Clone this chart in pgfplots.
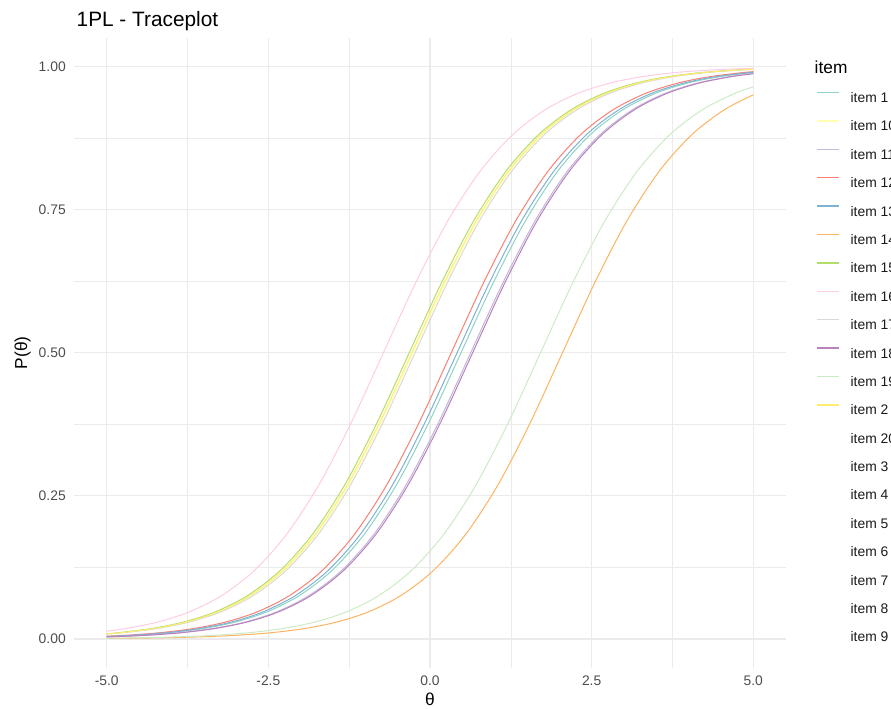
\documentclass[border=0pt]{standalone}
\usepackage{pgfplots}
\pgfplotsset{compat=1.18}
\usepackage{fontspec}
\setmainfont{Liberation Sans}
\definecolor{c1}{HTML}{8DD3C7}
\definecolor{c10}{HTML}{FFFFB3}
\definecolor{c11}{HTML}{BEBADA}
\definecolor{c12}{HTML}{FB8072}
\definecolor{c13}{HTML}{80B1D3}
\definecolor{c14}{HTML}{FDB462}
\definecolor{c15}{HTML}{B3DE69}
\definecolor{c16}{HTML}{FCCDE5}
\definecolor{c17}{HTML}{D9D9D9}
\definecolor{c18}{HTML}{BC80BD}
\definecolor{c19}{HTML}{CCEBC5}
\definecolor{c2}{HTML}{FFED6F}
\definecolor{gridc}{HTML}{EBEBEB}
\definecolor{tickc}{HTML}{4D4D4D}
\definecolor{legc}{HTML}{1A1A1A}
\begin{document}
\begin{tikzpicture}
\useasboundingbox (0pt,0pt) rectangle (668.25pt,531.75pt);
\node[anchor=base west, font=\fontsize{15.6}{18}\selectfont] at (54pt,511.7pt) {1PL - Traceplot};
\node[anchor=base west, font=\fontsize{13}{15}\selectfont] at (607.5pt,476.25pt) {item};
\begin{axis}[
  at={(55.8pt,31.05pt)}, anchor=south west,
  scale only axis, width=533.4pt, height=472.4pt,
  xmin=-5.5, xmax=5.5, ymin=-0.05, ymax=1.05,
  axis line style={draw=none},
  tick style={draw=none},
  major tick length=0pt, minor tick length=0pt,
  xtick={-5,-2.5,0,2.5,5}, xticklabels={-5.0,-2.5,0.0,2.5,5.0},
  ytick={0,0.25,0.5,0.75,1}, yticklabels={0.00,0.25,0.50,0.75,1.00},
  minor xtick={-3.75,-1.25,1.25,3.75},
  minor ytick={0.125,0.375,0.625,0.875},
  grid=both,
  major grid style={color=gridc, line width=0.8pt},
  minor grid style={color=gridc, line width=0.4pt},
  ticklabel style={font=\fontsize{10.4}{12}\selectfont, text=tickc, inner sep=0pt},
  xticklabel style={anchor=north, yshift=-6.3pt},
  yticklabel style={anchor=east, xshift=-6.3pt},
  xlabel={θ}, ylabel={P(θ)},
  xlabel style={at={(axis description cs:0.5,-0.0594)}, anchor=base, font=\fontsize{13}{15}\selectfont},
  ylabel style={at={(axis description cs:-0.0727,0.5)}, anchor=center, font=\fontsize{13}{15}\selectfont},
  legend cell align=left,
  legend style={at={(1.0368,0.9255)}, anchor=north west, draw=none, fill=none,
    font=\fontsize{10.4}{12}\selectfont, text=legc, row sep=10.04pt, column sep=0pt,
    nodes={inner sep=0pt, text height=7.5pt, text depth=0pt}},
  legend image code/.code={\path[draw=none,fill=none] (0pt,0pt) rectangle (25.4pt,7.5pt);\draw[#1,line width=1.1pt] (0pt,3.75pt) -- (16.7pt,3.75pt);},
  every axis plot/.append style={line width=0.75pt, smooth, no marks},
]
% item 1
\addplot[color=c1] coordinates {(-5,0.00415)(-4.52,0.0067)(-4.02,0.0110)(-3.52,0.0180)(-3.02,0.0293)(-2.52,0.0474)(-2.02,0.0759)(-1.52,0.1192)(-1.02,0.1824)(-0.52,0.2689)(-0.02,0.3775)(0.48,0.5)(0.98,0.6225)(1.48,0.7311)(1.98,0.8176)(2.48,0.8808)(2.98,0.9241)(3.48,0.9526)(3.98,0.9707)(4.48,0.9820)(5,0.98923)};
\addlegendentry{item 1}
% item 10
\addplot[color=c10] coordinates {(-5,0.00866)(-4.76,0.0110)(-4.26,0.0180)(-3.76,0.0293)(-3.26,0.0474)(-2.76,0.0759)(-2.26,0.1192)(-1.76,0.1824)(-1.26,0.2689)(-0.76,0.3775)(-0.26,0.5)(0.24,0.6225)(0.74,0.7311)(1.24,0.8176)(1.74,0.8808)(2.24,0.9241)(2.74,0.9526)(3.24,0.9707)(3.74,0.9820)(4.24,0.9890)(4.74,0.9933)(5,0.99483)};
\addlegendentry{item 10}
% item 11
\addplot[color=c11] coordinates {(-5,0.00358)(-4.87,0.0041)(-4.37,0.0067)(-3.87,0.0110)(-3.37,0.0180)(-2.87,0.0293)(-2.37,0.0474)(-1.87,0.0759)(-1.37,0.1192)(-0.87,0.1824)(-0.37,0.2689)(0.13,0.3775)(0.63,0.5)(1.13,0.6225)(1.63,0.7311)(2.13,0.8176)(2.63,0.8808)(3.13,0.9241)(3.63,0.9526)(4.13,0.9707)(4.63,0.9820)(5,0.98751)};
\addlegendentry{item 11}
% item 12
\addplot[color=c12] coordinates {(-5,0.00482)(-4.67,0.0067)(-4.17,0.0110)(-3.67,0.0180)(-3.17,0.0293)(-2.67,0.0474)(-2.17,0.0759)(-1.67,0.1192)(-1.17,0.1824)(-0.67,0.2689)(-0.17,0.3775)(0.33,0.5)(0.83,0.6225)(1.33,0.7311)(1.83,0.8176)(2.33,0.8808)(2.83,0.9241)(3.33,0.9526)(3.83,0.9707)(4.33,0.9820)(4.83,0.9890)(5,0.99071)};
\addlegendentry{item 12}
% item 13
\addplot[color=c13] coordinates {(-5,0.00441)(-4.58,0.0067)(-4.08,0.0110)(-3.58,0.0180)(-3.08,0.0293)(-2.58,0.0474)(-2.08,0.0759)(-1.58,0.1192)(-1.08,0.1824)(-0.58,0.2689)(-0.08,0.3775)(0.42,0.5)(0.92,0.6225)(1.42,0.7311)(1.92,0.8176)(2.42,0.8808)(2.92,0.9241)(3.42,0.9526)(3.92,0.9707)(4.42,0.9820)(5,0.98985)};
\addlegendentry{item 13}
% item 14
\addplot[color=c14] coordinates {(-5,0.00087)(-4.45,0.0015)(-3.95,0.0025)(-3.45,0.0041)(-2.95,0.0067)(-2.45,0.0110)(-1.95,0.0180)(-1.45,0.0293)(-0.95,0.0474)(-0.45,0.0759)(0.05,0.1192)(0.55,0.1824)(1.05,0.2689)(1.55,0.3775)(2.05,0.5)(2.55,0.6225)(3.05,0.7311)(3.55,0.8176)(4.05,0.8808)(4.55,0.9241)(5,0.95026)};
\addlegendentry{item 14}
% item 15
\addplot[color=c15] coordinates {(-5,0.00919)(-4.82,0.0110)(-4.32,0.0180)(-3.82,0.0293)(-3.32,0.0474)(-2.82,0.0759)(-2.32,0.1192)(-1.82,0.1824)(-1.32,0.2689)(-0.82,0.3775)(-0.32,0.5)(0.18,0.6225)(0.68,0.7311)(1.18,0.8176)(1.68,0.8808)(2.18,0.9241)(2.68,0.9526)(3.18,0.9707)(3.68,0.9820)(4.18,0.9890)(4.68,0.9933)(5,0.99513)};
\addlegendentry{item 15}
% item 16
\addplot[color=c16] coordinates {(-5,0.01365)(-4.72,0.0180)(-4.22,0.0293)(-3.72,0.0474)(-3.22,0.0759)(-2.72,0.1192)(-2.22,0.1824)(-1.72,0.2689)(-1.22,0.3775)(-0.72,0.5)(-0.22,0.6225)(0.28,0.7311)(0.78,0.8176)(1.28,0.8808)(1.78,0.9241)(2.28,0.9526)(2.78,0.9707)(3.28,0.9820)(3.78,0.9890)(4.28,0.9933)(4.78,0.9959)(5,0.99673)};
\addlegendentry{item 16}
% item 17
\addplot[color=c17] coordinates {(-5,0.00841)(-4.73,0.0110)(-4.23,0.0180)(-3.73,0.0293)(-3.23,0.0474)(-2.73,0.0759)(-2.23,0.1192)(-1.73,0.1824)(-1.23,0.2689)(-0.73,0.3775)(-0.23,0.5)(0.27,0.6225)(0.77,0.7311)(1.27,0.8176)(1.77,0.8808)(2.27,0.9241)(2.77,0.9526)(3.27,0.9707)(3.77,0.9820)(4.27,0.9890)(4.77,0.9933)(5,0.99468)};
\addlegendentry{item 17}
% item 18
\addplot[color=c18] coordinates {(-5,0.00347)(-4.84,0.0041)(-4.34,0.0067)(-3.84,0.0110)(-3.34,0.0180)(-2.84,0.0293)(-2.34,0.0474)(-1.84,0.0759)(-1.34,0.1192)(-0.84,0.1824)(-0.34,0.2689)(0.16,0.3775)(0.66,0.5)(1.16,0.6225)(1.66,0.7311)(2.16,0.8176)(2.66,0.8808)(3.16,0.9241)(3.66,0.9526)(4.16,0.9707)(4.66,0.9820)(5,0.98713)};
\addlegendentry{item 18}
% item 19
\addplot[color=c19] coordinates {(-5,0.00122)(-4.79,0.0015)(-4.29,0.0025)(-3.79,0.0041)(-3.29,0.0067)(-2.79,0.0110)(-2.29,0.0180)(-1.79,0.0293)(-1.29,0.0474)(-0.79,0.0759)(-0.29,0.1192)(0.21,0.1824)(0.71,0.2689)(1.21,0.3775)(1.71,0.5)(2.21,0.6225)(2.71,0.7311)(3.21,0.8176)(3.71,0.8808)(4.21,0.9241)(4.71,0.9526)(5,0.96408)};
\addlegendentry{item 19}
% item 2
\addplot[color=c2] coordinates {(-5,0.00884)(-4.78,0.0110)(-4.28,0.0180)(-3.78,0.0293)(-3.28,0.0474)(-2.78,0.0759)(-2.28,0.1192)(-1.78,0.1824)(-1.28,0.2689)(-0.78,0.3775)(-0.28,0.5)(0.22,0.6225)(0.72,0.7311)(1.22,0.8176)(1.72,0.8808)(2.22,0.9241)(2.72,0.9526)(3.22,0.9707)(3.72,0.9820)(4.22,0.9890)(4.72,0.9933)(5,0.99493)};
\addlegendentry{item 2}
\addlegendimage{draw opacity=0}\addlegendentry{item 20}
\addlegendimage{draw opacity=0}\addlegendentry{item 3}
\addlegendimage{draw opacity=0}\addlegendentry{item 4}
\addlegendimage{draw opacity=0}\addlegendentry{item 5}
\addlegendimage{draw opacity=0}\addlegendentry{item 6}
\addlegendimage{draw opacity=0}\addlegendentry{item 7}
\addlegendimage{draw opacity=0}\addlegendentry{item 8}
\addlegendimage{draw opacity=0}\addlegendentry{item 9}
\end{axis}
\end{tikzpicture}
\end{document}
